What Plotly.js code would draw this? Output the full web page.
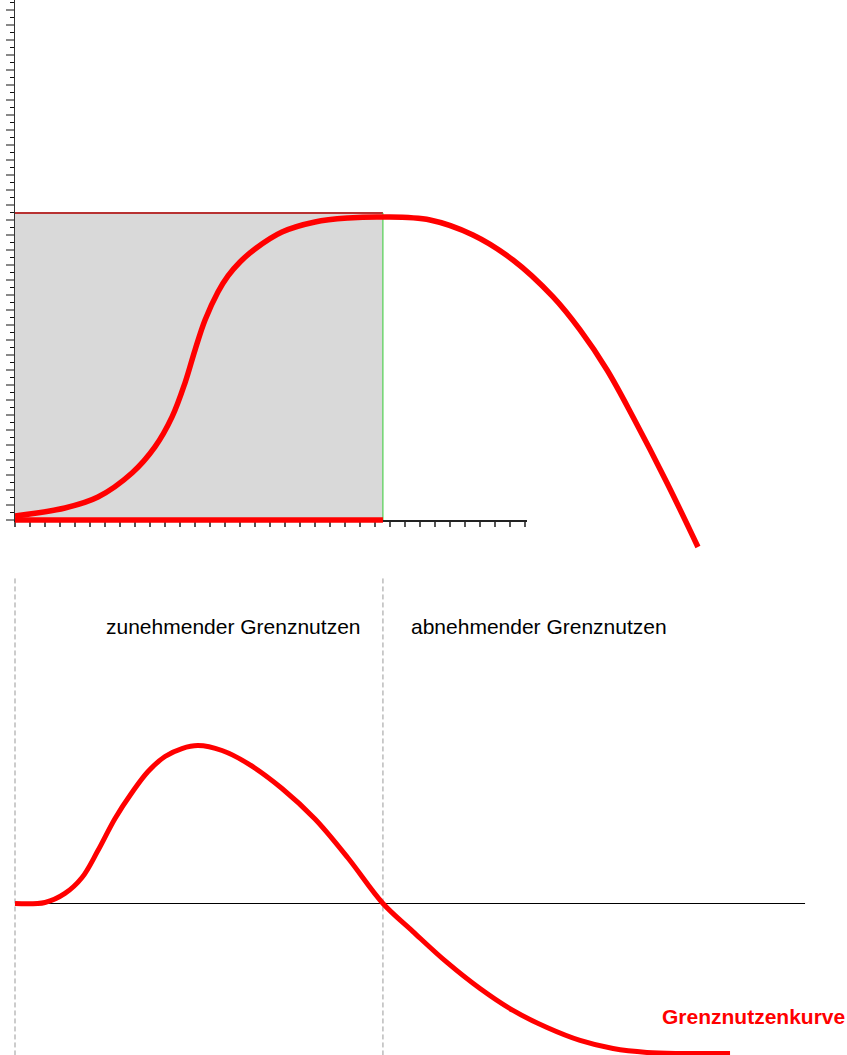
<!DOCTYPE html>
<html>
<head>
<meta charset="utf-8">
<script src="https://cdn.plot.ly/plotly-3.0.1.min.js"></script>
<style>html,body{margin:0;padding:0;background:#fff}#chart{width:847px;height:1055px}</style>
</head>
<body>
<div id="chart"></div>
<script>
// Gesamtnutzen (total utility) curve
const totalX = [0, 3.33, 5.53, 7.8, 9.33, 10.47, 11.33, 12, 12.67, 13.53, 14.2, 15, 16, 17.8, 20, 22.2, 24.53, 27.67, 30.53, 33.2, 35.87, 37.67, 39.47, 41.2, 43.47, 45.53];
const totalY = [0.27, 0.8, 1.53, 3.13, 4.87, 6.87, 9.13, 11.33, 13.33, 15.2, 16.27, 17.2, 18.07, 19.2, 19.87, 20.13, 20.2, 20, 19, 17.33, 14.87, 12.67, 10, 6.87, 2.47, -1.8];
// Grenznutzen (marginal utility) curve
const margX = [0, 2, 3.33, 4.47, 5.53, 6.67, 7.8, 8.87, 10, 11.13, 12.2, 13.8, 15.53, 17.8, 20, 22.2, 24.53, 26.53, 28.8, 31, 33.2, 35.47, 37.67, 39.87, 42.13, 44.33, 47.67];
const margY = [0, 0.07, 0.67, 1.73, 3.53, 5.67, 7.4, 8.8, 9.8, 10.33, 10.53, 10.2, 9.33, 7.67, 5.63, 3.03, 0, -1.87, -3.93, -5.67, -7.13, -8.27, -9.13, -9.67, -9.93, -10, -10];
// Sättigungspunkt (shaded rectangle) and axis extents
const saturationX = 24.53;
const saturationU = 20.47;
const topAxisXMax = 34.13;
const topAxisYMax = 34.67;
const bottomLineXMax = 52.67;
const dividerTop = 21.67;
// Labels
const labelLeft = 'zunehmender Grenznutzen';
const labelRight = 'abnehmender Grenznutzen';
const curveLabel = 'Grenznutzenkurve';

const W = 847, H = 1055;
const px = 15; // pixels per unit
const x0 = 15, yTop0 = 520, yBot0 = 903.5;

const red = '#ff0000';
const font = 'Liberation Sans, Arial, sans-serif';

const traces = [
  {x: totalX, y: totalY, xaxis: 'x', yaxis: 'y', mode: 'lines',
   line: {color: red, width: 5.5, shape: 'spline', smoothing: 1}, hoverinfo: 'skip'},
  {x: margX, y: margY, xaxis: 'x', yaxis: 'y2', mode: 'lines',
   line: {color: red, width: 5, shape: 'spline', smoothing: 1}, hoverinfo: 'skip'},
  {x: [0], y: [0], xaxis: 'x3', yaxis: 'y3', mode: 'markers',
   marker: {opacity: 0}, hoverinfo: 'skip'}
];

const layout = {
  width: W, height: H,
  margin: {l: 0, r: 0, t: 0, b: 0, pad: 0},
  paper_bgcolor: '#ffffff',
  plot_bgcolor: 'rgba(0,0,0,0)',
  showlegend: false,
  xaxis: {domain: [0, 1], range: [-x0 / px, (W - x0) / px], visible: false, fixedrange: true},
  yaxis: {domain: [0, 1], range: [-(H - yTop0) / px, yTop0 / px], visible: false, fixedrange: true},
  yaxis2: {overlaying: 'y', range: [-(H - yBot0) / px, yBot0 / px], visible: false, fixedrange: true},
  xaxis3: {
    domain: [x0 / W, (x0 + topAxisXMax * px) / W], range: [0, topAxisXMax], anchor: 'y3',
    showline: true, linecolor: '#222', linewidth: 1.5, mirror: false, layer: 'below traces',
    ticks: 'outside', ticklen: 5, tickwidth: 1.5, tickcolor: '#555', dtick: 1, tick0: 0,
    showticklabels: false, showgrid: false, zeroline: false, fixedrange: true
  },
  yaxis3: {
    domain: [(H - yTop0) / H, 1], range: [0, topAxisYMax], anchor: 'x3', layer: 'below traces',
    showline: true, linecolor: '#333', linewidth: 1.5,
    ticks: 'outside', ticklen: 8, tickwidth: 2, tickcolor: '#888', dtick: 1, tick0: 0,
    minor: {ticks: 'outside', ticklen: 4, tickwidth: 1.5, tickcolor: '#111', dtick: 0.5, showgrid: false},
    showticklabels: false, showgrid: false, zeroline: false, fixedrange: true
  },
  shapes: [
    {type: 'rect', xref: 'x', yref: 'y', x0: 0, x1: saturationX, y0: 0, y1: saturationU,
     fillcolor: '#d9d9d9', line: {width: 0}, layer: 'below'},
    {type: 'line', xref: 'x', yref: 'y', x0: 0, x1: saturationX, y0: saturationU, y1: saturationU,
     line: {color: '#b83232', width: 2}, layer: 'below'},
    {type: 'line', xref: 'x', yref: 'y', x0: saturationX, x1: saturationX, y0: 0, y1: saturationU,
     line: {color: '#33cc33', width: 1}, layer: 'below'},
    {type: 'line', xref: 'x', yref: 'y', x0: 0, x1: saturationX, y0: 0, y1: 0,
     line: {color: red, width: 5.5}, layer: 'above'},
    {type: 'line', xref: 'x', yref: 'y2', x0: 0, x1: bottomLineXMax, y0: 0, y1: 0,
     line: {color: '#000', width: 1}, layer: 'below'},
    {type: 'line', xref: 'x', yref: 'y2', x0: 0, x1: 0, y0: dividerTop, y1: -(H - yBot0) / px,
     line: {color: '#999999', width: 1, dash: '5px,3px'}, layer: 'below'},
    {type: 'line', xref: 'x', yref: 'y2', x0: saturationX, x1: saturationX, y0: dividerTop, y1: -(H - yBot0) / px,
     line: {color: '#999999', width: 1, dash: '5px,3px'}, layer: 'below'}
  ],
  annotations: [
    {text: labelLeft, xref: 'x', yref: 'y2', x: (363 - x0) / px, y: (yBot0 - 626) / px,
     xanchor: 'right', yanchor: 'middle', showarrow: false,
     font: {family: font, size: 21, color: '#000'}},
    {text: labelRight, xref: 'x', yref: 'y2', x: (409 - x0) / px, y: (yBot0 - 626) / px,
     xanchor: 'left', yanchor: 'middle', showarrow: false,
     font: {family: font, size: 21, color: '#000'}},
    {text: '<b>' + curveLabel + '</b>', xref: 'x', yref: 'y2', x: (847 - x0) / px, y: (yBot0 - 1016) / px,
     xanchor: 'right', yanchor: 'middle', showarrow: false,
     font: {family: font, size: 21, color: red}}
  ]
};

Plotly.newPlot('chart', traces, layout, {displayModeBar: false, staticPlot: true});
</script>
</body>
</html>
